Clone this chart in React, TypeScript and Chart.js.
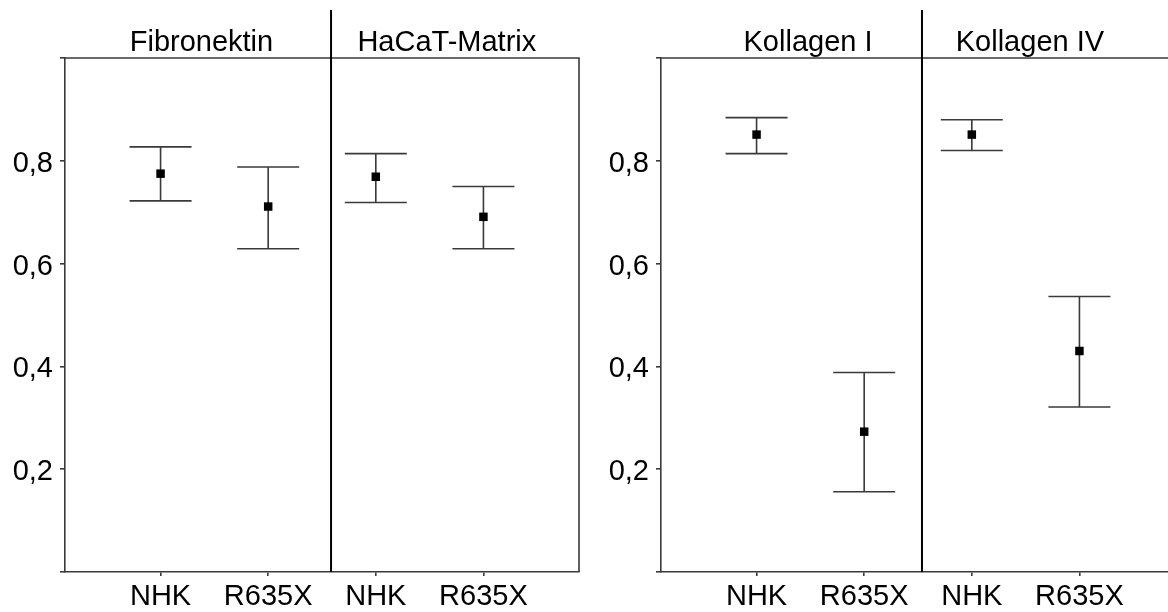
import React, { useEffect, useRef } from "react";
import { Chart, registerables } from "chart.js";

Chart.register(...registerables);

// ---- data ----
const groupLabels = ["NHK", "R635X", "NHK", "R635X"];
const xPositions = [1, 2, 3, 4];
const leftPanelTitles = ["Fibronektin", "HaCaT-Matrix"];
const rightPanelTitles = ["Kollagen I", "Kollagen IV"];
const leftMeans = [0.775, 0.711, 0.769, 0.691];
const leftUpper = [0.827, 0.788, 0.814, 0.75];
const leftLower = [0.722, 0.629, 0.719, 0.629];
const rightMeans = [0.851, 0.273, 0.851, 0.43];
const rightUpper = [0.884, 0.388, 0.88, 0.536];
const rightLower = [0.814, 0.156, 0.82, 0.321];
const yTickValues = [0, 0.2, 0.4, 0.6, 0.8, 1.0];
const yTickLabels = ["", "0,2", "0,4", "0,6", "0,8", ""];

// ---- layout / style (not data) ----
const FONT = "'Liberation Sans', Arial, Helvetica, sans-serif";
const FONT_SIZE = 29;
const AXIS_COLOR = "#3a3a3a";
const X_MIN = 0.112;
const X_MAX = 4.888;
const PANEL_LAYOUT = {
  left: { titleX: [1.38, 3.66], dividerX: 2.584, offsetLeft: 0 },
  right: { titleX: [1.478, 3.54], dividerX: 2.537, offsetLeft: 596 },
};

type PanelProps = {
  titles: string[];
  means: number[];
  upper: number[];
  lower: number[];
  layout: { titleX: number[]; dividerX: number; offsetLeft: number };
};

function Panel({ titles, means, upper, lower, layout }: PanelProps) {
  const ref = useRef<HTMLCanvasElement | null>(null);
  useEffect(() => {
    if (!ref.current) return;
    const panelPlugin = {
      id: "panelDecor",
      beforeDatasetsDraw(chart: any) {
        const { ctx, scales } = chart;
        const x = scales.x;
        const y = scales.y;
        ctx.save();
        ctx.strokeStyle = AXIS_COLOR;
        ctx.lineWidth = 1.6;
        xPositions.forEach((p, i) => {
          const px = x.getPixelForValue(p);
          const yu = y.getPixelForValue(upper[i]);
          const yl = y.getPixelForValue(lower[i]);
          const half = 31;
          ctx.beginPath();
          ctx.moveTo(px, yu);
          ctx.lineTo(px, yl);
          ctx.moveTo(px - half, yu);
          ctx.lineTo(px + half, yu);
          ctx.moveTo(px - half, yl);
          ctx.lineTo(px + half, yl);
          ctx.stroke();
        });
        ctx.restore();
      },
      afterDraw(chart: any) {
        const { ctx, chartArea, scales } = chart;
        const { left, right, top, bottom } = chartArea;
        ctx.save();
        // top and right border
        ctx.strokeStyle = AXIS_COLOR;
        ctx.lineWidth = 1.6;
        ctx.beginPath();
        ctx.moveTo(left, top);
        ctx.lineTo(right, top);
        ctx.lineTo(right, bottom);
        ctx.stroke();
        // divider
        const dx = scales.x.getPixelForValue(layout.dividerX);
        ctx.strokeStyle = "#000";
        ctx.lineWidth = 2;
        ctx.beginPath();
        ctx.moveTo(dx, 10);
        ctx.lineTo(dx, bottom);
        ctx.stroke();
        // titles
        ctx.fillStyle = "#000";
        ctx.font = `${FONT_SIZE}px ${FONT}`;
        ctx.textAlign = "center";
        ctx.textBaseline = "alphabetic";
        titles.forEach((t, i) => {
          ctx.fillText(t, scales.x.getPixelForValue(layout.titleX[i]), 51);
        });
        ctx.restore();
      },
    };

    const chart = new Chart(ref.current, {
      type: "scatter",
      data: {
        datasets: [
          {
            data: xPositions.map((xv, i) => ({ x: xv, y: means[i] })),
            pointStyle: "rect",
            pointRadius: 6,
            pointHoverRadius: 6,
            backgroundColor: "#000",
            borderWidth: 0,
          },
        ],
      },
      options: {
        responsive: false,
        animation: false,
        events: [],
        layout: { padding: { top: 58, right: 21, left: 0, bottom: 0 } },
        plugins: { legend: { display: false }, tooltip: { enabled: false } },
        scales: {
          x: {
            type: "linear",
            min: X_MIN,
            max: X_MAX,
            afterBuildTicks: (scale: any) => {
              scale.ticks = xPositions.map((v) => ({ value: v }));
            },
            afterFit: (scale: any) => {
              scale.height = 40;
            },
            ticks: {
              autoSkip: false,
              maxRotation: 0,
              padding: 4,
              color: "#000",
              font: { family: FONT, size: FONT_SIZE },
              callback: (v: any) => {
                const idx = xPositions.indexOf(Number(v));
                return idx >= 0 ? groupLabels[idx] : "";
              },
            },
            grid: {
              drawOnChartArea: false,
              drawTicks: true,
              tickLength: 4,
              color: AXIS_COLOR,
              lineWidth: 1.6,
            },
            border: { display: true, color: AXIS_COLOR, width: 1.6 },
          },
          y: {
            type: "linear",
            min: 0,
            max: 1,
            afterBuildTicks: (scale: any) => {
              scale.ticks = yTickValues.map((v) => ({ value: v }));
            },
            afterFit: (scale: any) => {
              scale.width = 65;
            },
            ticks: {
              padding: 7,
              labelOffset: 3,
              color: "#000",
              font: { family: FONT, size: FONT_SIZE },
              callback: (v: any) => {
                const idx = yTickValues.findIndex((t) => Math.abs(t - Number(v)) < 1e-6);
                return idx >= 0 ? yTickLabels[idx] : "";
              },
            },
            grid: {
              drawOnChartArea: false,
              drawTicks: true,
              tickLength: 5,
              color: AXIS_COLOR,
              lineWidth: 1.6,
            },
            border: { display: true, color: AXIS_COLOR, width: 1.6 },
          },
        },
      },
      plugins: [panelPlugin],
    } as any);
    return () => chart.destroy();
  }, []);

  return (
    <canvas
      ref={ref}
      width={600}
      height={612}
      style={{ position: "absolute", left: layout.offsetLeft, top: 0, display: "block" }}
    />
  );
}

export default function App() {
  return (
    <div
      style={{
        position: "absolute",
        left: 0,
        top: 0,
        width: 1168,
        height: 612,
        overflow: "hidden",
        background: "#fff",
      }}
    >
      <Panel
        titles={leftPanelTitles}
        means={leftMeans}
        upper={leftUpper}
        lower={leftLower}
        layout={PANEL_LAYOUT.left}
      />
      <Panel
        titles={rightPanelTitles}
        means={rightMeans}
        upper={rightUpper}
        lower={rightLower}
        layout={PANEL_LAYOUT.right}
      />
    </div>
  );
}
